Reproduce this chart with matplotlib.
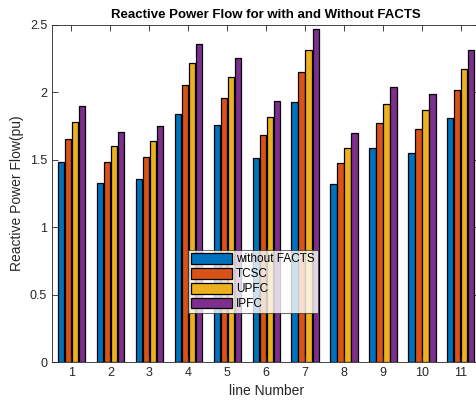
import numpy as np
import matplotlib
matplotlib.use('Agg')
import matplotlib.pyplot as plt

plt.rcParams['font.family'] = ['Liberation Sans', 'DejaVu Sans']

# line numbers and reactive power flow (pu)
lines = list(range(1, 12))
without_facts = [1.48, 1.33, 1.36, 1.84, 1.76, 1.51, 1.925, 1.32, 1.59, 1.55, 1.805]
tcsc = [1.655, 1.485, 1.52, 2.055, 1.96, 1.685, 2.15, 1.475, 1.775, 1.73, 2.015]
upfc = [1.78, 1.60, 1.64, 2.215, 2.115, 1.815, 2.315, 1.59, 1.91, 1.865, 2.17]
ipfc = [1.90, 1.705, 1.75, 2.36, 2.255, 1.935, 2.47, 1.695, 2.04, 1.99, 2.315]

series = [without_facts, tcsc, upfc, ipfc]
names = ['without FACTS', 'TCSC', 'UPFC', 'IPFC']
colors = ['#0072BD', '#D95319', '#EDB120', '#7E2F8E']

fig = plt.figure(figsize=(4.77, 4.05), dpi=100)
ax = fig.add_axes([0.109, 0.106, 0.898, 0.833])

x = np.arange(len(lines)) + 1
step = 0.18
for i, vals in enumerate(series):
    ax.bar(x + (i - 1.5) * step, vals, width=0.16, color=colors[i],
           edgecolor='black', linewidth=0.9, label=names[i])

ax.set_xlim(0.5, 11.5)
ax.set_ylim(0, 2.5)
ax.set_xticks(x)
ax.set_xticklabels([str(n) for n in lines])
ax.set_yticks([0, 0.5, 1, 1.5, 2, 2.5])
ax.set_yticklabels(['0', '0.5', '1', '1.5', '2', '2.5'])
ax.tick_params(direction='in', top=True, right=True, labelsize=9,
               colors='#262626', length=4, width=0.6)
for s in ax.spines.values():
    s.set_color('#262626')
    s.set_linewidth(0.6)

ax.set_xlabel('line Number', fontsize=10, color='#262626')
ax.set_ylabel('Reactive Power Flow(pu)', fontsize=10, color='#262626')
ax.set_title('Reactive Power Flow for with and Without FACTS', fontsize=9.5,
             fontweight='bold', pad=5)

leg = ax.legend(loc='lower left', bbox_to_anchor=(0.317, 0.145), fontsize=8.5,
                frameon=True, fancybox=False, edgecolor='#262626',
                handlelength=3.5, handleheight=1.0, borderpad=0.25,
                labelspacing=0.22, handletextpad=0.35, borderaxespad=0)
leg.get_frame().set_linewidth(0.6)

fig.savefig('out.png', dpi=100)
